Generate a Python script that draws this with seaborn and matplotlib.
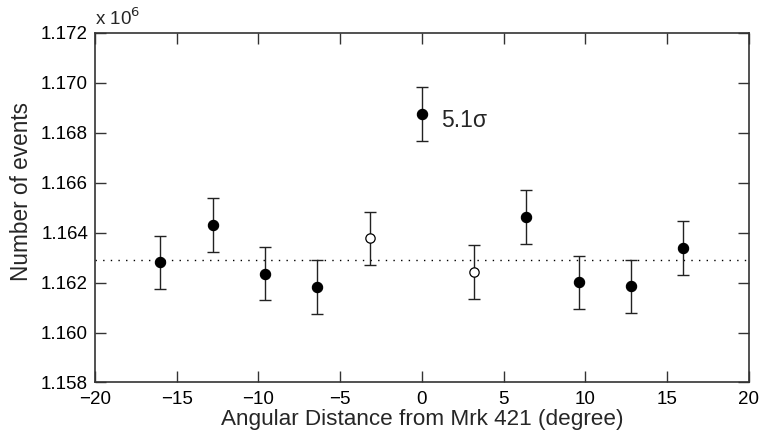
import matplotlib
matplotlib.use("Agg")
import matplotlib.pyplot as plt
import seaborn as sns
import pandas as pd

# data (number of events in units of 10^6)
angle = [-16.0, -12.8, -9.6, -6.4, -3.2, 0.0, 3.2, 6.4, 9.6, 12.8, 16.0]
events = [1.16281, 1.16431, 1.16236, 1.16183, 1.16377, 1.16876, 1.16243, 1.16463, 1.16201, 1.16185, 1.16340]
errors = [0.00107, 0.00108, 0.00107, 0.00107, 0.00106, 0.00108, 0.00107, 0.00108, 0.00107, 0.00107, 0.00108]
kind = ["on", "on", "on", "on", "off", "on", "off", "on", "on", "on", "on"]
mean_level = 1.16289
xticks = [-20, -15, -10, -5, 0, 5, 10, 15, 20]
yticks = [1.158, 1.160, 1.162, 1.164, 1.166, 1.168, 1.170, 1.172]

df = pd.DataFrame({"angle": angle, "events": events, "err": errors, "kind": kind})

sns.set_style("white")
plt.rcParams["font.family"] = ["Liberation Sans", "DejaVu Sans"]

fig = plt.figure(figsize=(7.63, 4.43), dpi=100)
ax = fig.add_axes([0.1245, 0.1366, 0.8568, 0.789])

ax.axhline(mean_level, color="black", linestyle=(0, (1, 4.5)), linewidth=1.0, zorder=1)
ax.errorbar(df["angle"], df["events"], yerr=df["err"], fmt="none", ecolor="#222222",
            elinewidth=1.0, capsize=4.5, capthick=1.0, zorder=2)
sns.scatterplot(data=df[df.kind == "on"], x="angle", y="events", ax=ax, color="black",
                edgecolor="black", s=55, linewidth=0.8, zorder=3, legend=False)
sns.scatterplot(data=df[df.kind == "off"], x="angle", y="events", ax=ax, color="white",
                edgecolor="black", s=45, linewidth=0.9, zorder=3, legend=False)

ax.text(1.2, 1.1685, "5.1σ", fontsize=16.5, va="center", ha="left",
        family=["Liberation Sans", "DejaVu Sans"])

ax.set_xlim(-20, 20)
ax.set_ylim(1.158, 1.172)
ax.set_xticks(xticks)
ax.set_xticklabels(["\u2212" + str(-t) if t < 0 else str(t) for t in xticks])
ax.set_yticks(yticks)
ax.set_yticklabels([f"{t:.3f}" for t in yticks])
ax.tick_params(direction="in", length=8, width=1, labelsize=13.5, top=True, right=True,
               left=True, bottom=True, colors="#333333", labelcolor="black")
ax.tick_params(axis="x", pad=6)
ax.tick_params(axis="y", pad=5)
for sp in ax.spines.values():
    sp.set_color("#333333")
    sp.set_linewidth(1.2)

ax.set_xlabel("Angular Distance from Mrk 421 (degree)", fontsize=16.2, labelpad=1)
ax.set_ylabel("Number of events", fontsize=16.3)
ax.yaxis.set_label_coords(-0.095, 0.547)
ax.text(0.0, 1.01, "x 10$^6$", transform=ax.transAxes, fontsize=13.5, ha="left", va="bottom")

fig.savefig("out.png", dpi=100)
